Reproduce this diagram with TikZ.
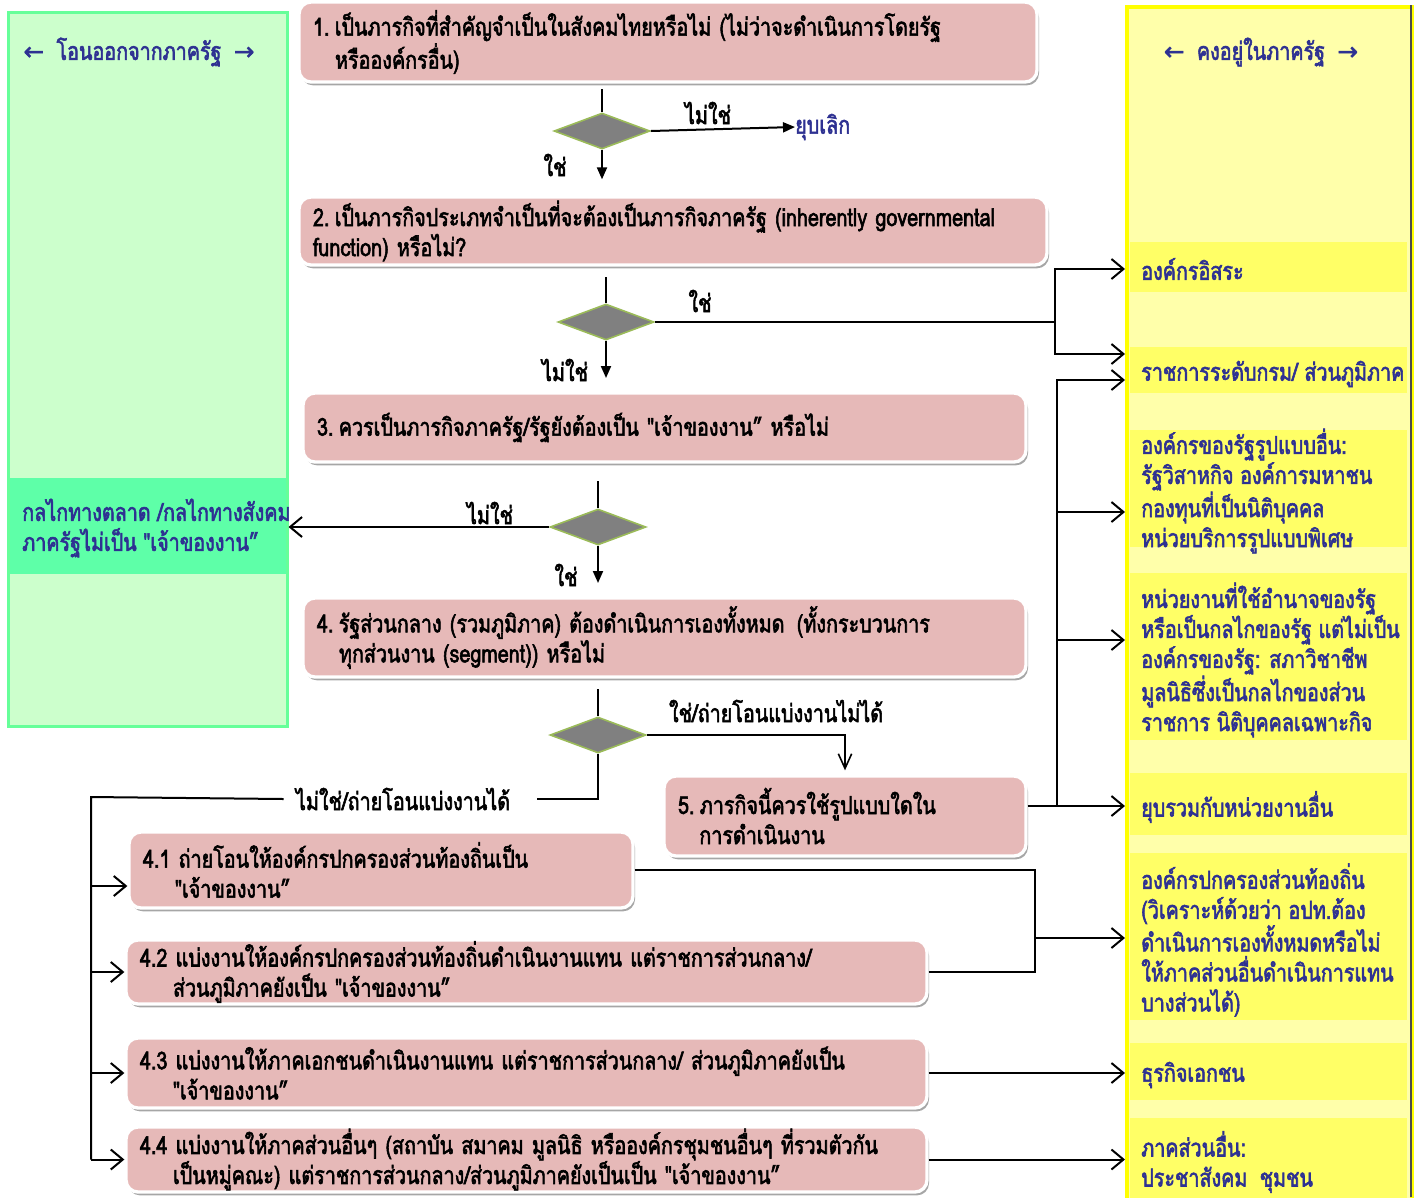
\documentclass[tikz,border=0pt]{standalone}
\usepackage{fontspec}
\usetikzlibrary{arrows.meta,shapes.geometric,shadows,calc}
\newfontfamily\thai[Script=Thai,FakeStretch=0.8,FakeBold=2.3]{Loma}
\newfontfamily\symf[FakeBold=1.5]{DejaVu Sans}
\definecolor{boxpink}{RGB}{230,185,184}
\definecolor{navy}{RGB}{46,49,146}
\definecolor{gfill}{RGB}{204,255,204}
\definecolor{gborder}{RGB}{102,255,153}
\definecolor{gband}{RGB}{94,255,168}
\definecolor{yfill}{RGB}{255,255,170}
\definecolor{yband}{RGB}{255,255,102}
\definecolor{yborder}{RGB}{255,255,0}
\definecolor{dgray}{RGB}{128,128,128}
\definecolor{dgreen}{RGB}{155,187,89}
\newcommand\nsp{\hspace{4pt}}
\tikzset{
 txt/.style={font=\thai\fontsize{18.5}{22.5}\selectfont},
 mainbox/.style={txt, rectangle, rounded corners=9pt, fill=boxpink, draw=white, line width=2.5pt,
   drop shadow={shadow xshift=1.5pt,shadow yshift=-2.5pt,fill=black,opacity=0.35},
   align=left, inner xsep=10.5pt, inner ysep=0pt},
 dec/.style={diamond, fill=dgray, draw=dgreen, line width=1.2pt, minimum width=72pt, minimum height=27pt, inner sep=0pt},
 lab/.style={txt, inner sep=1pt},
 ptxt/.style={txt, text=navy, align=left, inner sep=0pt, anchor=west},
 ln/.style={line width=1.5pt, draw=black},
 tri/.style={-{Triangle[length=9pt,width=7.5pt]}},
 barb/.style={-{Straight Barb[length=9pt,width=15pt,line width=1.5pt]}},
 sbarb/.style={-{Straight Barb[length=11pt,width=10pt,line width=1.2pt]}},
}
\begin{document}
\begin{tikzpicture}[x=0.75pt,y=-0.75pt]
\useasboundingbox (0,0) rectangle (1424,1197);
% left panel
\node[draw=gborder, fill=gfill, line width=2.25pt, minimum width=209.25pt, minimum height=535.5pt, inner sep=0pt] (lp) at (147.5,369) {};
\fill[gband] (10,478) rectangle (286,574);
\node[ptxt, anchor=center] (lt) at (139,52) {{\symf ←}\enspace โอนออกจากภาครัฐ\enspace{\symf →}};
\node[ptxt] (gt) at (22,528) {กลไกทางตลาด /กลไกทางสังคม\\ภาครัฐไม่เป็น "เจ้าของงาน”};
% right panel
\node[draw=yborder, fill=yfill, line width=3pt, minimum width=213.75pt, minimum height=900pt, inner sep=0pt, anchor=north west] (rp) at (1125,5) {};
\draw[black!70, line width=1.2pt] (1411,5) -- (1411,1197);
\fill[yband] (1130,242) rectangle (1407,292);
\fill[yband] (1130,347) rectangle (1407,393);
\fill[yband] (1130,430) rectangle (1407,547);
\fill[yband] (1130,573) rectangle (1407,740);
\fill[yband] (1130,773) rectangle (1407,835);
\fill[yband] (1130,853) rectangle (1407,1020);
\fill[yband] (1130,1043) rectangle (1407,1100);
\fill[yband] (1130,1118) rectangle (1407,1200);
\node[ptxt, anchor=center] (rt) at (1261,52) {{\symf ←}\enspace คงอยู่ในภาครัฐ\enspace{\symf →}};
\node[ptxt] (t1) at (1141,269) {องค์กรอิสระ};
\node[ptxt] (t2) at (1141,374) {ราชการระดับกรม/ ส่วนภูมิภาค};
\node[ptxt] (t3) at (1141,491) {องค์กรของรัฐรูปแบบอื่น:\\รัฐวิสาหกิจ องค์การมหาชน\\กองทุนที่เป็นนิติบุคคล\\หน่วยบริการรูปแบบพิเศษ};
\node[ptxt] (t4) at (1141,660) {หน่วยงานที่ใช้อำนาจของรัฐ\\หรือเป็นกลไกของรัฐ แต่ไม่เป็น\\องค์กรของรัฐ: สภาวิชาชีพ\\มูลนิธิซึ่งเป็นกลไกของส่วน\\ราชการ นิติบุคคลเฉพาะกิจ};
\node[ptxt] (t5) at (1141,807) {ยุบรวมกับหน่วยงานอื่น};
\node[ptxt] (t6) at (1141,940) {องค์กรปกครองส่วนท้องถิ่น\\(วิเคราะห์ด้วยว่า อปท.ต้อง\\ดำเนินการเองทั้งหมดหรือไม่\\ให้ภาคส่วนอื่นดำเนินการแทน\\บางส่วนได้)};
\node[ptxt] (t7) at (1141,1075) {ธุรกิจเอกชน};
\node[ptxt] (t8) at (1141,1162) {ภาคส่วนอื่น:\\ประชาสังคม\enspace ชุมชน};
% main boxes
\node[mainbox, minimum width=553.5pt, minimum height=60pt, text width=532.5pt] (box1) at (668,42)
 {1.\nsp เป็นภารกิจที่สำคัญจำเป็นในสังคมไทยหรือไม่ (ไม่ว่าจะดำเนินการโดยรัฐ\\\hspace*{16.5pt}หรือองค์กรอื่น)};
\node[mainbox, minimum width=561pt, minimum height=51pt, text width=540pt] (box2) at (673,231)
 {2.\nsp เป็นภารกิจประเภทจำเป็นที่จะต้องเป็นภารกิจภาครัฐ (inherently governmental\\function) หรือไม่?};
\node[mainbox, minimum width=542.25pt, minimum height=51.75pt, text width=521.25pt] (box3) at (664.5,427.5)
 {3.\nsp ควรเป็นภารกิจภาครัฐ/รัฐยังต้องเป็น "เจ้าของงาน” หรือไม่};
\node[mainbox, minimum width=542.25pt, minimum height=59.25pt, text width=521.25pt] (box4) at (664.5,637.5)
 {4.\nsp รัฐส่วนกลาง (รวมภูมิภาค) ต้องดำเนินการเองทั้งหมด\enspace(ทั้งกระบวนการ\\\hspace*{16.5pt}ทุกส่วนงาน (segment)) หรือไม่};
\node[mainbox, minimum width=271.5pt, minimum height=60pt, text width=250.5pt] (box5) at (845,816)
 {5.\nsp ภารกิจนี้ควรใช้รูปแบบใดใน\\\hspace*{16pt}การดำเนินงาน};
\node[mainbox, minimum width=378pt, minimum height=57pt, text width=357pt] (b41) at (381,870)
 {4.1 ถ่ายโอนให้องค์กรปกครองส่วนท้องถิ่นเป็น\\\hspace*{24pt}"เจ้าของงาน”};
\node[mainbox, minimum width=600.75pt, minimum height=48pt, text width=579.75pt] (b42) at (526.5,972)
 {4.2 แบ่งงานให้องค์กรปกครองส่วนท้องถิ่นดำเนินงานแทน แต่ราชการส่วนกลาง/\\\hspace*{24.75pt}ส่วนภูมิภาคยังเป็น "เจ้าของงาน”};
\node[mainbox, minimum width=600.75pt, minimum height=52.5pt, text width=579.75pt] (b43) at (526.5,1073)
 {4.3 แบ่งงานให้ภาคเอกชนดำเนินงานแทน แต่ราชการส่วนกลาง/ ส่วนภูมิภาคยังเป็น\\\hspace*{24.75pt}"เจ้าของงาน”};
\node[mainbox, minimum width=600.75pt, minimum height=48.75pt, text width=579.75pt] (b44) at (526.5,1159.5)
 {4.4 แบ่งงานให้ภาคส่วนอื่นๆ (สถาบัน สมาคม มูลนิธิ หรือองค์กรชุมชนอื่นๆ ที่รวมตัวกัน\\\hspace*{24.75pt}เป็นหมู่คณะ) แต่ราชการส่วนกลาง/ส่วนภูมิภาคยังเป็นเป็น "เจ้าของงาน”};
% decisions
\node[dec] (d1) at (602,131) {};
\node[dec] (d2) at (606,322) {};
\node[dec] (d3) at (598,527) {};
\node[dec] (d4) at (598,735) {};
% labels
\node[lab] (l1) at (708,113) {ไม่ใช่};
\node[lab, text=navy, anchor=west, inner sep=0pt] (kill) at (795,127) {ยุบเลิก};
\node[lab] (l2) at (555,165) {ใช่};
\node[lab] (l3) at (700,301) {ใช่};
\node[lab] (l4) at (565,370) {ไม่ใช่};
\node[lab] (l5) at (490,513) {ไม่ใช่};
\node[lab] (l6) at (566,575) {ใช่};
\node[lab] (l7) at (776,711) {ใช่/ถ่ายโอนแบ่งงานไม่ได้};
\node[lab, inner sep=0pt] (l8) at (403,799) {ไม่ใช่/ถ่ายโอนแบ่งงานได้};
% junctions
\coordinate (j1) at (1055,322);
\coordinate (j3) at (1057,806);
\coordinate (j4) at (1035,938);
\coordinate (j5) at (91,797);
\coordinate (e2a) at (1125,354);
\coordinate (e2b) at (1125,380);
\coordinate (e3) at (1125,512);
\coordinate (e4) at (1125,640);
% connectors
\draw[ln, shorten <=4pt] (d1.north |- box1.south) -- (d1.north);
\draw[ln,tri] (d1.east) -- (kill.west);
\draw[ln,tri,shorten >=12pt] (d1.south) -- (d1.south |- box2.north);
\draw[ln, shorten <=8pt] (d2.north |- box2.south) -- (d2.north);
\draw[ln] (d2.east) -- (j1);
\draw[ln,barb] (j1) |- (rp.west |- t1.west);
\draw[ln,barb] (j1) |- (e2a);
\draw[ln,tri,shorten >=10pt] (d2.south) -- (d2.south |- box3.north);
\draw[ln, shorten <=13pt] (d3.north |- box3.south) -- (d3.north);
\draw[ln,barb] (d3.west) -- (lp.east |- d3.west);
\draw[ln,tri,shorten >=10pt] (d3.south) -- (d3.south |- box4.north);
\draw[ln, shorten <=8pt] (d4.north |- box4.south) -- (d4.north);
\draw[ln,sbarb,shorten >=3pt] (d4.east) -| (box5.north);
\draw[ln] (d4.south) |- ($(l8.east)+(27,0)$);
\draw[ln] ($(l8.west)+(-12,0)$) -- (j5) -- (j5 |- b44.west);
\coordinate (a41) at ($(b41.west)+(0,16)$);
\draw[ln,barb] (j5 |- a41) -- (a41);
\draw[ln,barb] (j5 |- b42.west) -- (b42.west);
\draw[ln,barb] (j5 |- b43.west) -- (b43.west);
\draw[ln,barb] (j5 |- b44.west) -- (b44.west);
\draw[ln] ($(box5.east)+(0,-10)$) -- (j3);
\draw[ln,barb] (j3) -- (rp.west |- j3);
\draw[ln,barb] (j3) |- (e2b);
\draw[ln,barb] (j3) |- (e3);
\draw[ln,barb] (j3) |- (e4);
\draw[ln] (b41.east) -| (j4);
\draw[ln] (b42.east) -| (j4);
\draw[ln,barb] (j4) -- (rp.west |- j4);
\draw[ln,barb] (b43.east) -- (rp.west |- b43.east);
\draw[ln,barb] (b44.east) -- (rp.west |- b44.east);
\end{tikzpicture}
\end{document}
